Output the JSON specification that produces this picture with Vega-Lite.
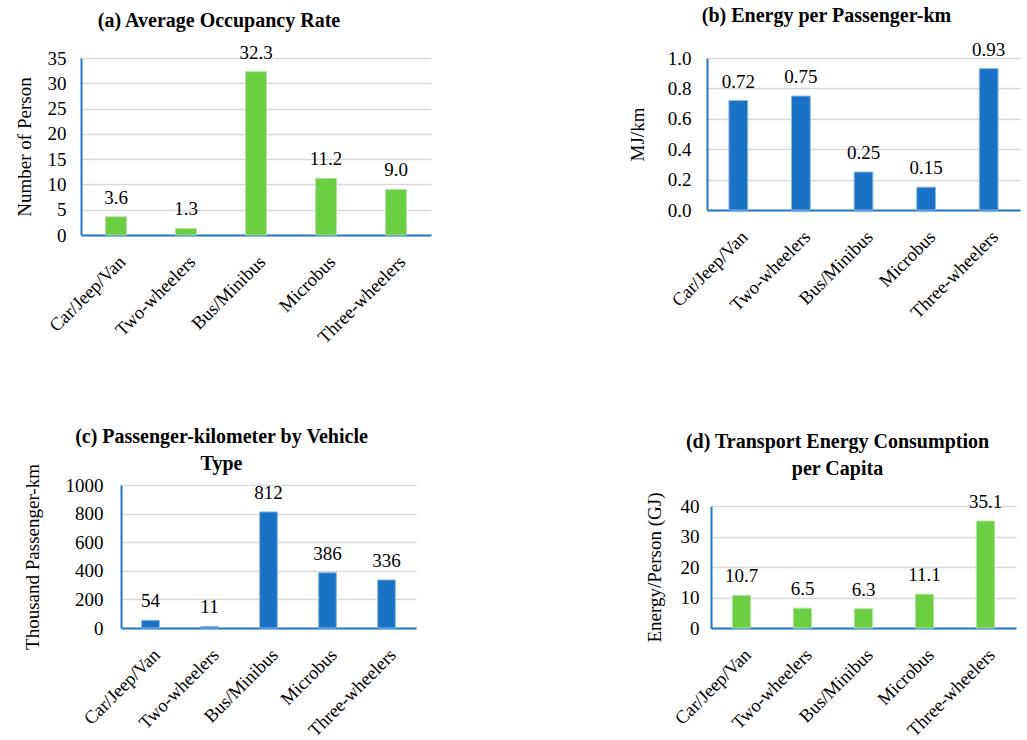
{
  "$schema": "https://vega.github.io/schema/vega-lite/v6.json",
  "padding": {"left": 15, "top": 5, "right": 5, "bottom": 5},
  "background": "white",
  "datasets": {
    "occ": [
      {"vehicle": "Car/Jeep/Van", "value": 3.6},
      {"vehicle": "Two-wheelers", "value": 1.3},
      {"vehicle": "Bus/Minibus", "value": 32.3},
      {"vehicle": "Microbus", "value": 11.2},
      {"vehicle": "Three-wheelers", "value": 9.0}
    ],
    "epk": [
      {"vehicle": "Car/Jeep/Van", "value": 0.72},
      {"vehicle": "Two-wheelers", "value": 0.75},
      {"vehicle": "Bus/Minibus", "value": 0.25},
      {"vehicle": "Microbus", "value": 0.15},
      {"vehicle": "Three-wheelers", "value": 0.93}
    ],
    "pkm": [
      {"vehicle": "Car/Jeep/Van", "value": 54},
      {"vehicle": "Two-wheelers", "value": 11},
      {"vehicle": "Bus/Minibus", "value": 812},
      {"vehicle": "Microbus", "value": 386},
      {"vehicle": "Three-wheelers", "value": 336}
    ],
    "epc": [
      {"vehicle": "Car/Jeep/Van", "value": 10.7},
      {"vehicle": "Two-wheelers", "value": 6.5},
      {"vehicle": "Bus/Minibus", "value": 6.3},
      {"vehicle": "Microbus", "value": 11.1},
      {"vehicle": "Three-wheelers", "value": 35.1}
    ]
  },
  "config": {
    "font": "Liberation Serif",
    "view": {"stroke": null},
    "axis": {
      "domainColor": "#1F78C8",
      "domainWidth": 2,
      "ticks": false,
      "gridColor": "#D9D9D9",
      "gridWidth": 1.5,
      "labelFont": "Liberation Serif",
      "labelFontSize": 19,
      "labelColor": "#000000",
      "titleFont": "Liberation Serif",
      "titleFontSize": 19,
      "titleFontWeight": "normal",
      "titleColor": "#000000"
    },
    "axisX": {"grid": false, "labelAngle": -45, "title": null, "labelPadding": 17, "labelFontSize": 18.5},
    "title": {"font": "Liberation Serif", "fontSize": 20, "fontWeight": "bold", "color": "#000000", "anchor": "middle", "frame": "group"},
    "text": {"font": "Liberation Serif", "fontSize": 19, "color": "#000000"}
  },
  "vconcat": [
    {
      "bounds": "flush",
      "spacing": 276,
      "hconcat": [
        {
          "data": {"name": "occ"},
          "width": 350,
          "height": 177,
          "title": {"text": "(a) Average Occupancy Rate", "dx": -37, "offset": 13},
          "encoding": {
            "x": {"field": "vehicle", "type": "nominal", "sort": null, "scale": {"paddingInner": 0.7, "paddingOuter": 0.35}},
            "y": {"field": "value", "type": "quantitative", "scale": {"domain": [0, 35], "nice": false},
              "axis": {"title": "Number of Person", "values": [0, 5, 10, 15, 20, 25, 30, 35], "labelPadding": 15, "titlePadding": 13}}
          },
          "layer": [
            {"mark": {"type": "bar", "color": "#6CCF43", "stroke": "#B3E6A0", "strokeWidth": 1}},
            {"mark": {"type": "text", "baseline": "alphabetic", "dy": -13}, "encoding": {"text": {"field": "value", "type": "quantitative", "format": ".1f"}}}
          ]
        },
        {
          "data": {"name": "epk"},
          "width": 313,
          "height": 152,
          "title": {"text": "(b) Energy per Passenger-km", "dx": -37, "offset": 15},
          "encoding": {
            "x": {"field": "vehicle", "type": "nominal", "sort": null, "scale": {"paddingInner": 0.7, "paddingOuter": 0.35}},
            "y": {"field": "value", "type": "quantitative", "scale": {"domain": [0, 1], "nice": false},
              "axis": {"title": "MJ/km", "values": [0, 0.2, 0.4, 0.6, 0.8, 1.0], "format": ".1f", "labelPadding": 16, "titlePadding": 20}}
          },
          "layer": [
            {"mark": {"type": "bar", "color": "#1A72C6", "stroke": "#8DB9E3", "strokeWidth": 1}},
            {"mark": {"type": "text", "baseline": "alphabetic", "dy": -13}, "encoding": {"text": {"field": "value", "type": "quantitative", "format": ".2f"}}}
          ]
        }
      ]
    },
    {
      "bounds": "flush",
      "spacing": 295,
      "hconcat": [
        {
          "data": {"name": "pkm"},
          "width": 335,
          "height": 143,
          "title": {"text": ["(c) Passenger-kilometer by Vehicle", "Type"], "dx": -27, "offset": -10, "lineHeight": 27},
          "encoding": {
            "x": {"field": "vehicle", "type": "nominal", "sort": null, "scale": {"paddingInner": 0.7, "paddingOuter": 0.35, "range": [40, 335]}},
            "y": {"field": "value", "type": "quantitative", "scale": {"domain": [0, 1000], "nice": false},
              "axis": {"title": "Thousand Passenger-km", "values": [0, 200, 400, 600, 800, 1000], "format": "d", "offset": -40, "labelPadding": 18, "titlePadding": 23}}
          },
          "layer": [
            {"mark": {"type": "bar", "color": "#1A72C6", "stroke": "#8DB9E3", "strokeWidth": 1}},
            {"mark": {"type": "text", "baseline": "alphabetic", "dy": -13}, "encoding": {"text": {"field": "value", "type": "quantitative", "format": "d"}}}
          ]
        },
        {
          "data": {"name": "epc"},
          "width": 305,
          "height": 143,
          "title": {"text": ["(d) Transport Energy Consumption", "per Capita"], "dx": -26, "offset": 6, "lineHeight": 27},
          "encoding": {
            "x": {"field": "vehicle", "type": "nominal", "sort": null, "scale": {"paddingInner": 0.7, "paddingOuter": 0.35}},
            "y": {"field": "value", "type": "quantitative", "scale": {"domain": [0, 40], "nice": false, "range": [143, 21]},
              "axis": {"title": "Energy/Person (GJ)", "values": [0, 10, 20, 30, 40], "labelPadding": 12, "titlePadding": 16}}
          },
          "layer": [
            {"mark": {"type": "bar", "color": "#6CCF43", "stroke": "#B3E6A0", "strokeWidth": 1}},
            {"mark": {"type": "text", "baseline": "alphabetic", "dy": -13}, "encoding": {"text": {"field": "value", "type": "quantitative", "format": ".1f"}}}
          ]
        }
      ]
    }
  ],
  "bounds": "flush",
  "spacing": 427
}
